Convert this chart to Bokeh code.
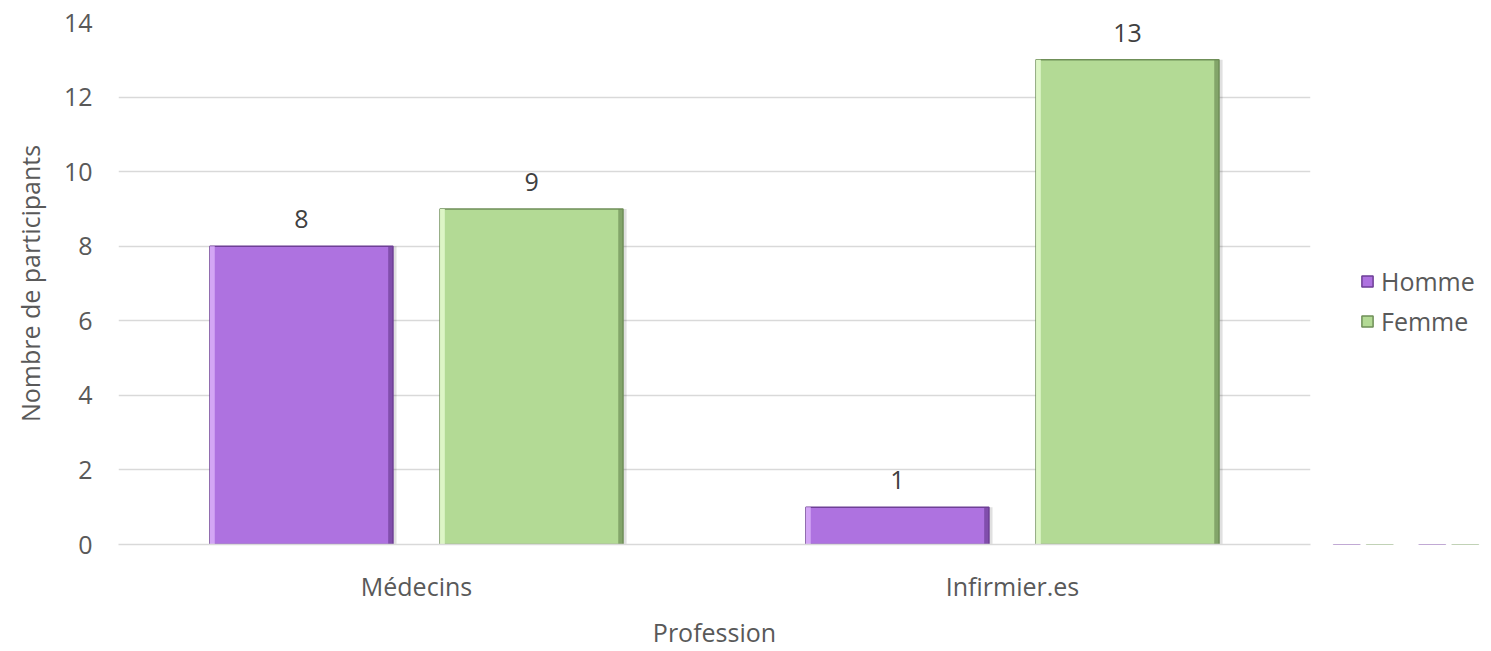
from bokeh.plotting import figure
from bokeh.layouts import row
from bokeh.models import BoxAnnotation, ColumnDataSource, FactorRange, Legend, LegendItem, Range1d
from bokeh.transform import dodge
from bokeh.core.properties import value
from bokeh.embed import file_html
from bokeh.resources import INLINE

professions = ["Médecins", "Infirmier.es"]
homme = [8, 1]
femme = [9, 13]
y_ticks = [0, 2, 4, 6, 8, 10, 12, 14]

FONT = "Open Sans"
FS = "25px"
TXT = "#595959"

src = ColumnDataSource(dict(
    prof=professions,
    homme=homme,
    femme=femme,
    homme_lbl=[str(v) for v in homme],
    femme_lbl=[str(v) for v in femme],
))

p = figure(
    width=1320, height=651,
    x_range=FactorRange(factors=professions, range_padding=0),
    y_range=Range1d(0, 14),
    output_backend="svg", toolbar_location=None,
    min_border_left=118, min_border_right=10, min_border_top=22, min_border_bottom=100,
)
p.outline_line_color = None
p.background_fill_color = "white"

BW = 0.307
OFF = 0.193

series = [
    ("homme", -OFF, "#AE72E0", "#6E3F96", "#D3A6F5", "Homme"),
    ("femme", OFF, "#B3DA95", "#6F8F58", "#DDF5C6", "Femme"),
]

for col, off, fill, dark, light, name in series:
    # soft drop shadow
    p.vbar(x=dodge("prof", off + 0.006, range=p.x_range), top=col, width=BW, bottom=0,
           source=src, fill_color="#000000", fill_alpha=0.12, line_color=None)
    p.vbar(x=dodge("prof", off, range=p.x_range), top=col, width=BW, bottom=0,
           source=src, fill_color=fill, line_color=dark, line_width=1.5)
    # bevel highlight on the left edge, darker edge on the right
    p.vbar(x=dodge("prof", off - BW / 2 + 0.004, range=p.x_range), top=col, width=0.008,
           bottom=0, source=src, fill_color=light, line_color=None)
    p.vbar(x=dodge("prof", off + BW / 2 - 0.004, range=p.x_range), top=col, width=0.008,
           bottom=0, source=src, fill_color=dark, fill_alpha=0.7, line_color=None)
    p.text(x=dodge("prof", off, range=p.x_range), y=col, text=col + "_lbl", source=src,
           text_align="center", text_baseline="bottom", y_offset=-18,
           text_font=value(FONT), text_font_size=FS, text_color="#404040")

# axes
p.yaxis.ticker = y_ticks
p.yaxis.axis_line_color = None
p.yaxis.major_tick_line_color = None
p.yaxis.minor_tick_line_color = None
p.yaxis.major_label_text_font = FONT
p.yaxis.major_label_text_font_size = FS
p.yaxis.major_label_text_color = TXT
p.yaxis.major_label_standoff = 20
p.yaxis.axis_label = "Nombre de participants"
p.yaxis.axis_label_text_font = FONT
p.yaxis.axis_label_text_font_size = FS
p.yaxis.axis_label_text_font_style = "normal"
p.yaxis.axis_label_text_color = TXT
p.yaxis.axis_label_standoff = 14

p.xaxis.axis_line_color = "#D9D9D9"
p.xaxis.axis_line_width = 1.5
p.xaxis.major_tick_line_color = None
p.xaxis.minor_tick_line_color = None
p.xaxis.major_label_text_font = FONT
p.xaxis.major_label_text_font_size = FS
p.xaxis.major_label_text_color = TXT
p.xaxis.major_label_standoff = 18
p.xaxis.axis_label = "Profession"
p.xaxis.axis_label_text_font = FONT
p.xaxis.axis_label_text_font_size = FS
p.xaxis.axis_label_text_font_style = "normal"
p.xaxis.axis_label_text_color = TXT
p.xaxis.axis_label_standoff = 9

p.xgrid.grid_line_color = None
p.ygrid.ticker = y_ticks
p.ygrid.grid_line_color = "#D9D9D9"
p.ygrid.grid_line_width = 1.5

# legend panel on the right: same series, drawn just below its visible range
lg = figure(width=171, height=651, output_backend="svg", toolbar_location=None,
            x_range=FactorRange(factors=professions), y_range=Range1d(14, 15),
            min_border=0)
lg.axis.visible = False
lg.grid.visible = False
lg.outline_line_color = None
items = []
for col, off, fill, dark, light, name in series:
    r = lg.vbar(x=dodge("prof", off, range=lg.x_range), top=col, width=BW, bottom=0,
                source=src, fill_color=fill, line_color=dark, line_width=1.5)
    items.append(LegendItem(label=name, renderers=[r]))
# white mask along the lower edge of the legend panel
lg.add_layout(BoxAnnotation(top=14.05, fill_color="white", fill_alpha=1.0,
                            line_color=None, level="overlay"))
legend = Legend(
    items=items,
    label_text_font=FONT, label_text_font_size=FS, label_text_color=TXT,
    glyph_width=14, glyph_height=14, spacing=6, border_line_color=None,
    background_fill_alpha=0, padding=0, margin=0, label_standoff=7,
    location=(40, 206),
)
lg.add_layout(legend, "center")

open("out.html", "w").write(file_html(row(p, lg, spacing=0), INLINE))
